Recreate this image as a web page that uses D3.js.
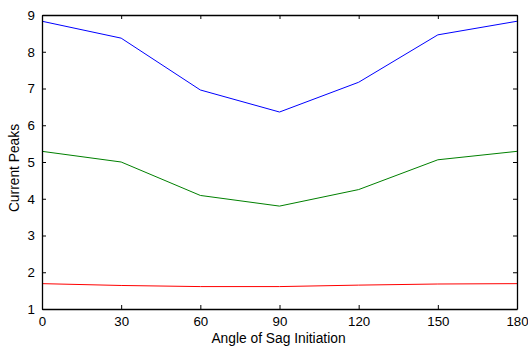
<!DOCTYPE html>
<html><head><meta charset="utf-8">
<script src="https://cdn.jsdelivr.net/npm/d3@7"></script>
<style>body{margin:0;background:#fff}svg{display:block}text{font-family:"Liberation Sans",Arial,sans-serif}</style>
</head><body>
<svg id="c" width="528" height="348"></svg>
<script>
const angles = [0, 30, 60, 90, 120, 150, 180];
const blueSeries = [8.83, 8.37, 6.96, 6.36, 7.17, 8.46, 8.83];
const greenSeries = [5.29, 5.00, 4.09, 3.80, 4.25, 5.06, 5.29];
const redSeries = [1.69, 1.64, 1.61, 1.61, 1.65, 1.68, 1.69];
const xTicks = [0, 30, 60, 90, 120, 150, 180];
const yTicks = [1, 2, 3, 4, 5, 6, 7, 8, 9];
const series = [
  {values: blueSeries, color: "#0000ff"},
  {values: greenSeries, color: "#008000"},
  {values: redSeries, color: "#ff0000"}
];
const svg = d3.select("#c");
const L = 42, R = 517, T = 15, B = 309;
const x = d3.scaleLinear().domain([0, 180]).range([L, R]);
const y = d3.scaleLinear().domain([1, 9]).range([B, T]);
const g = svg.append("g");
const line = d3.line().x((d, i) => x(angles[i])).y(d => y(d));
series.forEach(s => {
  g.append("path").attr("d", line(s.values)).attr("fill", "none")
   .attr("stroke", s.color).attr("stroke-width", 1);
});
const tl = 4;
const axB = svg.append("g").attr("transform", `translate(0,${B})`)
  .call(d3.axisBottom(x).tickValues(xTicks).tickSizeInner(-tl).tickSizeOuter(0).tickPadding(8));
const axT = svg.append("g").attr("transform", `translate(0,${T})`)
  .call(d3.axisTop(x).tickValues(xTicks).tickSizeInner(-tl).tickSizeOuter(0).tickFormat(""));
const axL = svg.append("g").attr("transform", `translate(${L},0)`)
  .call(d3.axisLeft(y).tickValues(yTicks).tickSizeInner(-tl).tickSizeOuter(0).tickPadding(7));
const axR = svg.append("g").attr("transform", `translate(${R},0)`)
  .call(d3.axisRight(y).tickValues(yTicks).tickSizeInner(-tl).tickSizeOuter(0).tickFormat(""));
[axB, axT, axL, axR].forEach(a => {
  a.selectAll("path").attr("stroke", "#000").attr("stroke-width", 1.3);
  a.selectAll("line").attr("stroke", "#000");
  a.selectAll("text").attr("font-size", 13.3).attr("fill", "#000").attr("font-family", "Liberation Sans, Arial, sans-serif");
});
svg.append("text").attr("x", (L + R) / 2 - 1).attr("y", 343).attr("text-anchor", "middle")
  .attr("font-size", 13.8).text("Angle of Sag Initiation");
svg.append("text").attr("transform", `translate(18.5,${(T + B) / 2 + 6}) rotate(-90)`)
  .attr("text-anchor", "middle").attr("font-size", 13.8).text("Current Peaks");
</script>
</body></html>
